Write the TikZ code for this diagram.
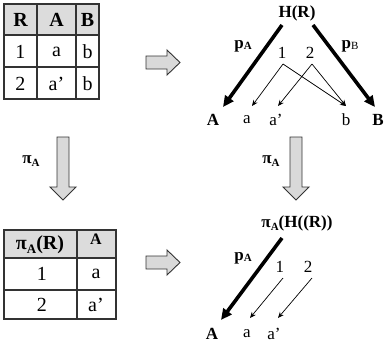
\documentclass[tikz,border=0pt]{standalone}
\usepackage{fontspec}
\setmainfont{Liberation Serif}
\newfontfamily\tms{Liberation Serif}
\usetikzlibrary{arrows.meta}
\definecolor{hdr}{HTML}{DCDCDC}
\definecolor{edgec}{HTML}{333333}
\definecolor{blkfill}{HTML}{D9D9D9}
\begin{document}
\begin{tikzpicture}[x=1pt,y=-1pt,
  grid/.style={draw=edgec,line width=1.1pt},
  tcell/.style={inner sep=0pt,font=\tms\fontsize{20}{20}\selectfont},
  thead/.style={inner sep=0pt,font=\tms\fontsize{20}{20}\selectfont\bfseries},
  glbl/.style={inner sep=0pt,font=\tms\fontsize{17}{17}\selectfont},
  gbold/.style={inner sep=0pt,font=\tms\fontsize{17}{17}\selectfont\bfseries},
  blockarrow/.style={draw=edgec,fill=blkfill,line width=0.9pt,line join=miter},
  thick arrow/.style={line width=3.6pt,-{Triangle[length=11pt,width=10pt]}},
  thin arrow/.style={line width=0.7pt,-{Stealth[length=6pt,width=5pt]}}]
\useasboundingbox (0,0) rectangle (384,346);

% ---------- top table
\fill[hdr] (4,4) rectangle (99,35);
\draw[grid] (4,4) rectangle (99,99);
\draw[grid] (4,35) -- (99,35) (4,67) -- (99,67) (37,4) -- (37,99) (76,4) -- (76,99);
\node[thead] (tR) at (20.5,20) {R};
\node[thead] (tA) at (56.5,20) {A};
\node[thead] (tB) at (87.5,20) {B};
\node[tcell] (t11) at (20.5,51.5) {1};
\node[tcell] (t12) at (56.5,51.5) {a};
\node[tcell] (t13) at (87.5,51.5) {b};
\node[tcell] (t21) at (20.5,83.5) {2};
\node[tcell] (t22) at (56.5,83.5) {a’};
\node[tcell] (t23) at (87.5,83.5) {b};

% ---------- bottom table
\fill[hdr] (4,230) rectangle (116,258);
\draw[grid] (4,230) rectangle (116,319);
\draw[grid] (4,258) -- (116,258) (4,290) -- (116,290) (77,230) -- (77,319);
\node[thead] (bP) at (40,245) {π\raisebox{-0.45ex}{\fontsize{13}{13}\selectfont A}(R)};
\node[inner sep=0pt,font=\tms\fontsize{16}{16}\selectfont\bfseries] (bA) at (96,239) {A};
\node[tcell] (b11) at (42,274) {1};
\node[tcell] (b12) at (96,274) {a};
\node[tcell] (b21) at (42,305) {2};
\node[tcell] (b22) at (96,305) {a’};

% ---------- block arrows
\draw[blockarrow] (146,56) -- (167,56) -- (167,50) -- (180,62.5) -- (167,75) -- (167,69) -- (146,69) -- cycle;
\draw[blockarrow] (146,256) -- (167,256) -- (167,250) -- (180,262.5) -- (167,275) -- (167,269) -- (146,269) -- cycle;
\draw[blockarrow] (57,137) -- (69,137) -- (69,187) -- (76,187) -- (63,200) -- (50,187) -- (57,187) -- cycle;
\draw[blockarrow] (290,137) -- (302,137) -- (302,187) -- (309,187) -- (296,200) -- (283,187) -- (290,187) -- cycle;
\node[gbold] (piL) at (31,161) {π\raisebox{-0.45ex}{\fontsize{11}{11}\selectfont A}};
\node[gbold] (piR) at (271,161) {π\raisebox{-0.45ex}{\fontsize{11}{11}\selectfont A}};

% ---------- top graph
\node[gbold] (HR) at (297,13) {H(R)};
\node[glbl] (pA) at (243,46) {\textbf{p}\raisebox{-0.2ex}{\fontsize{11}{11}\selectfont\bfseries A}};
\node[glbl] (pB) at (350,46) {\textbf{p}\raisebox{-0.2ex}{\fontsize{11}{11}\selectfont B}};
\node[glbl] (n1) at (282,53) {1};
\node[glbl] (n2) at (310,53) {2};
\node[gbold] (lA) at (213,120) {A};
\node[glbl] (la) at (247,120) {a};
\node[glbl] (lap) at (276,120) {a’};
\node[glbl] (lb) at (346,120) {b};
\node[gbold] (lB) at (378,120) {B};
\coordinate (HRl) at (282,25);
\coordinate (HRr) at (313,25);
\coordinate (tipA) at (223,107);
\coordinate (tipB) at (375,107);
\coordinate (n1s) at (283,64);
\coordinate (n2s) at (312,64);
\coordinate (ta) at (252,106);
\coordinate (tap) at (278,106);
\coordinate (tb) at (346,106);
\draw[thick arrow] (HRl) -- (tipA);
\draw[thick arrow] (HRr) -- (tipB);
\draw[thin arrow] (n1s) -- (ta);
\draw[thin arrow] (n1s) -- (tb);
\draw[thin arrow] (n2s) -- (tap);
\draw[thin arrow] (n2s) -- (tb);

% ---------- bottom graph
\node[gbold] (PH) at (297,223) {π\raisebox{-0.45ex}{\fontsize{11}{11}\selectfont A}(H((R))};
\node[glbl] (pA2) at (243,258) {\textbf{p}\raisebox{-0.2ex}{\fontsize{11}{11}\selectfont\bfseries A}};
\node[glbl] (m1) at (280,267) {1};
\node[glbl] (m2) at (308,267) {2};
\node[gbold] (lA2) at (212,334) {A};
\node[glbl] (la2) at (247,334) {a};
\node[glbl] (lap2) at (274,334) {a’};
\coordinate (PHs) at (282,238);
\coordinate (tipA2) at (221,320);
\coordinate (m1s) at (283,278);
\coordinate (m2s) at (312,278);
\coordinate (ta2) at (250,318);
\coordinate (tap2) at (278,318);
\draw[thick arrow] (PHs) -- (tipA2);
\draw[thin arrow] (m1s) -- (ta2);
\draw[thin arrow] (m2s) -- (tap2);
\end{tikzpicture}
\end{document}
